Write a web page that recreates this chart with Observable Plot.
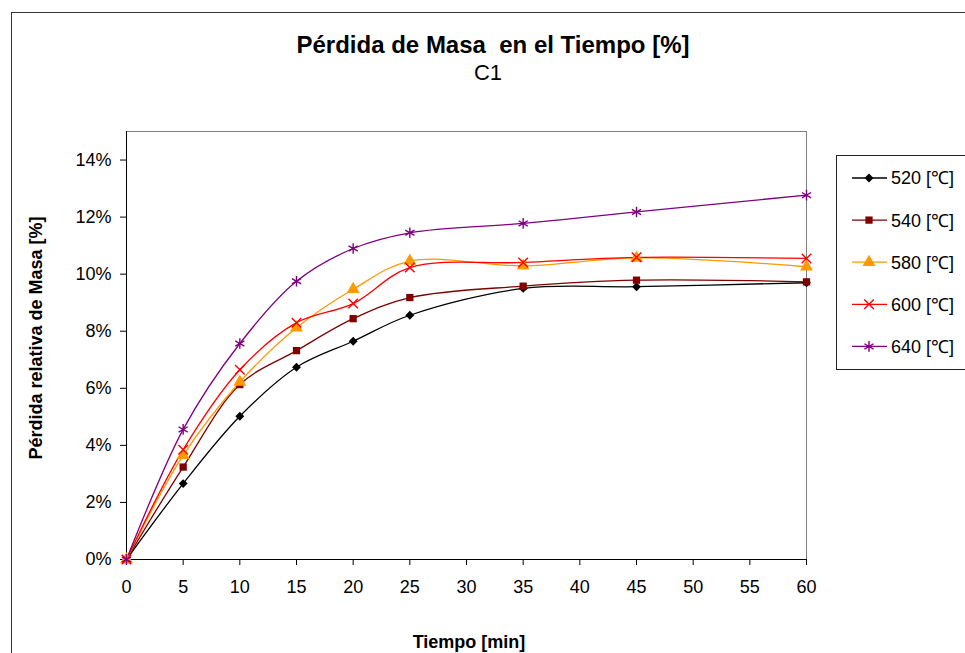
<!DOCTYPE html>
<html>
<head>
<meta charset="utf-8">
<script src="https://cdn.jsdelivr.net/npm/d3@7"></script>
<script src="https://cdn.jsdelivr.net/npm/@observablehq/plot@0.6"></script>
<style>
  html, body { margin: 0; padding: 0; background: white; overflow: hidden; }
  body { width: 965px; height: 653px; position: relative; font-family: "Liberation Sans", Arial, sans-serif; }
  #chart { position: absolute; left: 0; top: 0; }
  #outer { position: absolute; left: 11px; top: 12px; width: 1100px; height: 800px; border: 1px solid #333; pointer-events: none; }
</style>
</head>
<body>
<div id="chart"></div>
<div id="outer"></div>
<script>
// ---- data ----
const times = [0, 5, 10, 15, 20, 25, 35, 45, 60];
const series = ["520 [\u2103]", "540 [\u2103]", "580 [\u2103]", "600 [\u2103]", "640 [\u2103]"];
const s520 = [0, 2.66, 5.02, 6.74, 7.65, 8.56, 9.50, 9.56, 9.70];
const s540 = [0, 3.24, 6.13, 7.32, 8.44, 9.18, 9.58, 9.79, 9.73];
const s580 = [0, 3.65, 6.22, 8.12, 9.47, 10.46, 10.29, 10.57, 10.26];
const s600 = [0, 3.85, 6.65, 8.30, 8.97, 10.23, 10.41, 10.59, 10.55];
const s640 = [0, 4.56, 7.57, 9.75, 10.90, 11.45, 11.78, 12.18, 12.77];
const xTicks = [0, 5, 10, 15, 20, 25, 30, 35, 40, 45, 50, 55, 60];
const yTicks = [0, 2, 4, 6, 8, 10, 12, 14];
const titleText = "Pérdida de Masa  en el Tiempo [%]";
const subtitleText = "C1";
const xLabel = "Tiempo [min]";
const yLabel = "Pérdida relativa de Masa [%]";

// ---- styles ----
const colors = ["#000000", "#800000", "#FF9900", "#FF0000", "#800080"];
const symbols = ["diamond2", "square", "triangle", "times", "asterisk"];
const filled = [true, true, true, false, false];
const radii = [4.0, 4.1, 4.8, 4.4, 5.0];

const values = [s520, s540, s580, s600, s640];
const rows = [];
series.forEach((s, i) => values[i].forEach((v, j) => rows.push({series: s, idx: i, t: times[j], v})));

const W = 965, H = 653;
const marks = [
  Plot.frame({stroke: "#808080"}),
  Plot.axisX({ticks: xTicks, tickSize: 6, tickPadding: 15, fontSize: 18, label: null, tickFormat: d => String(d)}),
  Plot.axisY({ticks: yTicks, tickSize: 6, tickPadding: 9, fontSize: 18, label: null, tickFormat: d => d + "%"}),
  Plot.ruleY([0], {stroke: "black"}),
  Plot.ruleX([0], {stroke: "black"})
];
series.forEach((s, i) => {
  const data = rows.filter(r => r.idx === i);
  marks.push(Plot.line(data, {x: "t", y: "v", stroke: colors[i], strokeWidth: 1.3, curve: "catmull-rom"}));
});
series.forEach((s, i) => {
  const data = rows.filter(r => r.idx === i);
  marks.push(Plot.dot(data, filled[i]
    ? {x: "t", y: "v", symbol: () => symbols[i], r: radii[i], fill: colors[i], stroke: "none"}
    : {x: "t", y: "v", symbol: () => symbols[i], r: radii[i], stroke: colors[i], strokeWidth: 1.4, fill: "none"}));
});

const svg = Plot.plot({
  width: W, height: H,
  marginLeft: 126, marginRight: W - 806, marginTop: 131, marginBottom: H - 559,
  style: {fontFamily: "'Liberation Sans', Arial, sans-serif", fontSize: "18px", color: "black", background: "white", overflow: "visible"},
  x: {domain: [0, 60]},
  y: {domain: [0, 15]},
  symbol: {type: "identity"},
  marks
});
document.getElementById("chart").appendChild(svg);

const g = d3.select(svg).append("g").attr("font-family", "'Liberation Sans', Arial, sans-serif").attr("fill", "black");
g.append("text").attr("x", 493).attr("y", 53).attr("text-anchor", "middle").attr("font-size", 24).attr("font-weight", "bold").style("white-space", "pre").text(titleText);
g.append("text").attr("x", 488).attr("y", 80).attr("text-anchor", "middle").attr("font-size", 22).text(subtitleText);
g.append("text").attr("x", 469).attr("y", 648).attr("text-anchor", "middle").attr("font-size", 18).attr("font-weight", "bold").text(xLabel);
g.append("text").attr("transform", "translate(42,338) rotate(-90)").attr("text-anchor", "middle").attr("font-size", 18).attr("font-weight", "bold").text(yLabel);

// legend
const lg = d3.select(svg).append("g");
lg.append("rect").attr("x", 836.5).attr("y", 155.5).attr("width", 200).attr("height", 214).attr("fill", "white").attr("stroke", "#222");
const symMap = {diamond2: d3.symbolDiamond2, square: d3.symbolSquare, triangle: d3.symbolTriangle, times: d3.symbolTimes, asterisk: d3.symbolAsterisk};
series.forEach((s, i) => {
  const cy = 178 + i * 42.1;
  lg.append("line").attr("x1", 852).attr("x2", 887).attr("y1", cy).attr("y2", cy).attr("stroke", colors[i]).attr("stroke-width", 1.3);
  const p = lg.append("path").attr("transform", `translate(869,${cy})`).attr("d", d3.symbol(symMap[symbols[i]], Math.PI * radii[i] * radii[i])());
  if (filled[i]) p.attr("fill", colors[i]); else p.attr("fill", "none").attr("stroke", colors[i]).attr("stroke-width", 1.4);
  lg.append("text").attr("x", 891).attr("y", cy).attr("dy", "0.36em").attr("text-anchor", "start").attr("font-size", 18).attr("font-family", "'Liberation Sans', Arial, sans-serif").text(s);
});
</script>
</body>
</html>
